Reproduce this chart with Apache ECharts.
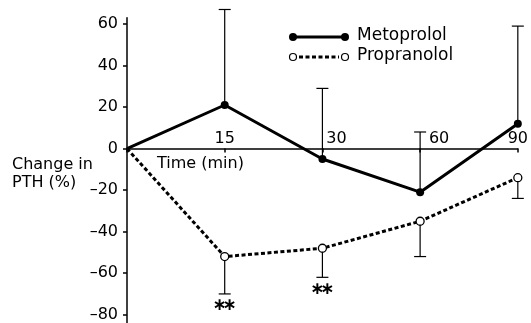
<!DOCTYPE html>
<html>
<head>
<meta charset="utf-8">
<script src="https://cdn.jsdelivr.net/npm/echarts@6/dist/echarts.min.js"></script>
<style>
  html, body { margin: 0; padding: 0; background: #fff; }
  #chart { width: 531px; height: 323px; }
</style>
</head>
<body>
<div id="chart"></div>
<script>
// time points (min), equally spaced on the plot
const timeLabels = ['0', '15', '30', '60', '90'];
const yTicks = [-80, -60, -40, -20, 0, 20, 40, 60];

// change in PTH (%)
const metoprolol = [0, 21, -5, -21, 12];
const metoprololUpper = [null, 67, 29, 8, 59];
const propranolol = [0, -52, -48, -35, -14];
const propranololLower = [null, -70, -62, -52, -24];
const sigMarks = ['', '**', '**', '', ''];

const FONT = '"DejaVu Sans"';
const Y_MIN = -84, Y_MAX = 63, TOP = 17.8, H = 323;
// pixel offset that puts the x axis on the zero line
const zeroOffset = -(H - TOP) * (0 - Y_MIN) / (Y_MAX - Y_MIN);

function lineData(values) {
  // no marker at the origin
  return values.map((v, i) => (i === 0 ? { value: v, symbol: 'none' } : v));
}

function barData(values, ends) {
  const out = [];
  values.forEach((v, i) => {
    if (ends[i] !== null) out.push([i, v, ends[i]]);
  });
  return out;
}

function errorBars(params, api) {
  const i = api.value(0);
  const p = api.coord([i, api.value(1)]);
  const e = api.coord([i, api.value(2)]);
  const style = { stroke: '#000', lineWidth: 1.2 };
  const children = [
    { type: 'line', shape: { x1: p[0], y1: p[1], x2: e[0], y2: e[1] }, style: style },
    { type: 'line', shape: { x1: e[0] - 6, y1: e[1], x2: e[0] + 6, y2: e[1] }, style: style }
  ];
  if (params.seriesName === 'propErr' && sigMarks[i]) {
    const n = sigMarks[i].length;
    for (let k = 0; k < n; k++) {
      children.push({
        type: 'text',
        x: e[0] + (k - (n - 1) / 2) * 10, y: e[1] + 12,
        style: {
          text: '\u2217',
          fill: '#000', font: 'bold 17px "DejaVu Sans"',
          align: 'center', verticalAlign: 'middle'
        }
      });
    }
  }
  return { type: 'group', children: children };
}

const chart = echarts.init(document.getElementById('chart'));
chart.setOption({
  animation: false,
  backgroundColor: '#fff',
  grid: { left: 127, right: 9, top: TOP, bottom: 0 },
  xAxis: {
    type: 'category',
    data: timeLabels,
    boundaryGap: false,
    offset: zeroOffset,
    axisLine: { onZero: false, lineStyle: { color: '#000', width: 1.5 } },
    axisTick: { show: true, inside: false, length: 4, lineStyle: { color: '#000', width: 1.5 } },
    axisLabel: {
      inside: true,
      margin: 2,
      color: '#000',
      fontFamily: FONT,
      fontSize: 16,
      formatter: function (v) {
        if (v === '0') return '';
        if (v === '30') return '{a|' + v + '}';
        if (v === '60') return '{b|' + v + '}';
        return v;
      },
      rich: {
        a: { padding: [0, 0, 0, 28], fontFamily: FONT, fontSize: 16, color: '#000' },
        b: { padding: [0, 0, 0, 38], fontFamily: FONT, fontSize: 16, color: '#000' }
      }
    },
    splitLine: { show: false }
  },
  yAxis: {
    type: 'value',
    min: Y_MIN,
    max: Y_MAX,
    axisLine: { show: true, lineStyle: { color: '#000', width: 1.5 } },
    axisTick: { show: true, inside: false, length: 4, customValues: yTicks, lineStyle: { color: '#000', width: 1.5 } },
    axisLabel: {
      customValues: yTicks,
      margin: 9,
      color: '#000',
      fontFamily: FONT,
      fontSize: 16,
      formatter: function (v) { return String(v).replace('-', '\u2013'); }
    },
    splitLine: { show: false }
  },
  graphic: [
    {
      type: 'text', left: 12, top: 156,
      style: { text: 'Change in\nPTH (%)', font: '16px ' + FONT, fill: '#000', lineHeight: 18 }
    },
    {
      type: 'text', left: 157, top: 156,
      style: { text: 'Time (min)', font: '16px ' + FONT, fill: '#000' }
    },
    // legend
    { type: 'line', shape: { x1: 293, y1: 37, x2: 345, y2: 37 }, style: { stroke: '#000', lineWidth: 3 } },
    { type: 'circle', shape: { cx: 293, cy: 37, r: 4 }, style: { fill: '#000' } },
    { type: 'circle', shape: { cx: 345, cy: 37, r: 4 }, style: { fill: '#000' } },
    { type: 'text', left: 357, top: 27, style: { text: 'Metoprolol', font: '17px ' + FONT, fill: '#000' } },
    { type: 'line', shape: { x1: 299, y1: 57, x2: 339, y2: 57 }, style: { stroke: '#000', lineWidth: 3, lineDash: [4, 2.5] } },
    { type: 'circle', shape: { cx: 293, cy: 57, r: 3.5 }, style: { fill: '#fff', stroke: '#000', lineWidth: 1.2 } },
    { type: 'circle', shape: { cx: 345, cy: 57, r: 3.5 }, style: { fill: '#fff', stroke: '#000', lineWidth: 1.2 } },
    { type: 'text', left: 357, top: 47, style: { text: 'Propranolol', font: '17px ' + FONT, fill: '#000' } }
  ],
  series: [
    {
      name: 'metoErr',
      type: 'custom',
      renderItem: errorBars,
      encode: { x: 0, y: [1, 2] },
      data: barData(metoprolol, metoprololUpper),
      z: 1
    },
    {
      name: 'propErr',
      type: 'custom',
      renderItem: errorBars,
      encode: { x: 0, y: [1, 2] },
      data: barData(propranolol, propranololLower),
      z: 1
    },
    {
      name: 'Metoprolol',
      type: 'line',
      data: lineData(metoprolol),
      symbol: 'circle',
      symbolSize: 8,
      itemStyle: { color: '#000' },
      lineStyle: { color: '#000', width: 3 },
      z: 3
    },
    {
      name: 'Propranolol',
      type: 'line',
      data: lineData(propranolol),
      symbol: 'circle',
      symbolSize: 8,
      itemStyle: { color: '#fff', borderColor: '#000', borderWidth: 1.3 },
      lineStyle: { color: '#000', width: 3, type: [4, 2.5] },
      z: 3
    }
  ]
});
</script>
</body>
</html>
